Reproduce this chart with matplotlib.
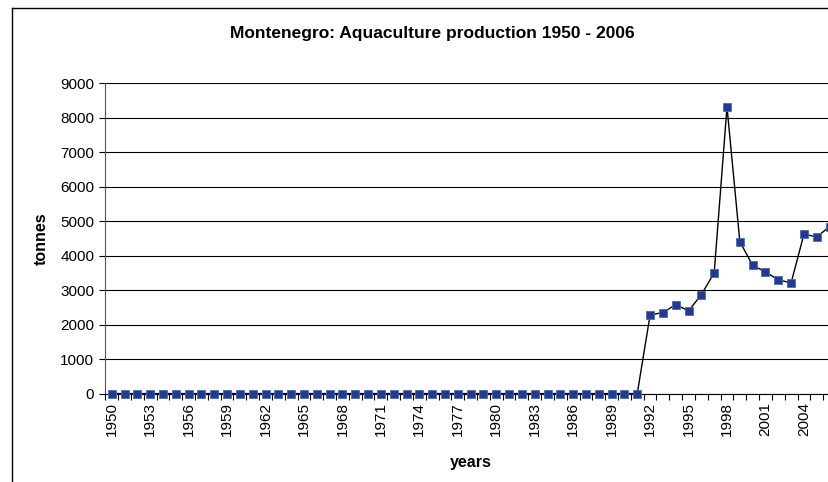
import numpy as np
import matplotlib.pyplot as plt
from matplotlib.lines import Line2D

plt.rcParams['font.family'] = ['Liberation Sans', 'DejaVu Sans']

# Data
years = np.arange(1950, 2007)
early = [0] * 42  # 1950 - 1991
late = [2280, 2350, 2580, 2400, 2870, 3500, 8320, 4410, 3720, 3530,
        3300, 3210, 4620, 4550, 4840]  # 1992 - 2006
tonnes = np.array(early + late)
tick_years = np.arange(1950, 2005, 3)

fig = plt.figure(figsize=(8.29, 4.82), dpi=100)
ax = fig.add_axes([0.127, 0.1835, 0.8814, 0.6435])

ax.plot(years, tonnes, color='black', linewidth=1, marker='s', markersize=6,
        markerfacecolor='#233a93', markeredgecolor='#4a6cb0', markeredgewidth=0.6,
        clip_on=False, zorder=3)

ax.set_xlim(1949.5, 2006.5)
ax.set_ylim(0, 9000)
ax.set_yticks(np.arange(0, 9001, 1000))
ax.set_xticks(tick_years)
ax.set_xticklabels([str(y) for y in tick_years], rotation=90)
ax.set_xticks(np.arange(1949.5, 2007, 1), minor=True)
ax.tick_params(axis='x', which='major', length=0, pad=6, labelsize=11)
ax.tick_params(axis='x', which='minor', length=4, direction='out', width=0.8)
ax.tick_params(axis='y', length=4, direction='out', width=0.8, labelsize=11, pad=4)

ax.grid(True, axis='y', color='black', linewidth=0.8)
ax.set_axisbelow(True)
for side in ['top', 'right']:
    ax.spines[side].set_visible(False)
ax.spines['left'].set_color('#555555')
ax.spines['bottom'].set_linewidth(0.8)

ax.set_ylabel('tonnes', fontsize=11.5, fontweight='bold', labelpad=8)
ax.set_xlabel('years', fontsize=11.5, fontweight='bold', labelpad=14)
fig.text(0.521, 0.931, 'Montenegro: Aquaculture production 1950 - 2006',
         ha='center', va='center', fontsize=12.5, fontweight='bold')

# chart frame (left and top edges visible)
fig.add_artist(Line2D([12 / 829, 12 / 829], [0, 1 - 8 / 482], color='black', linewidth=1))
fig.add_artist(Line2D([12 / 829, 1], [1 - 8 / 482, 1 - 8 / 482], color='black', linewidth=1))

fig.savefig('out.png', dpi=100)
